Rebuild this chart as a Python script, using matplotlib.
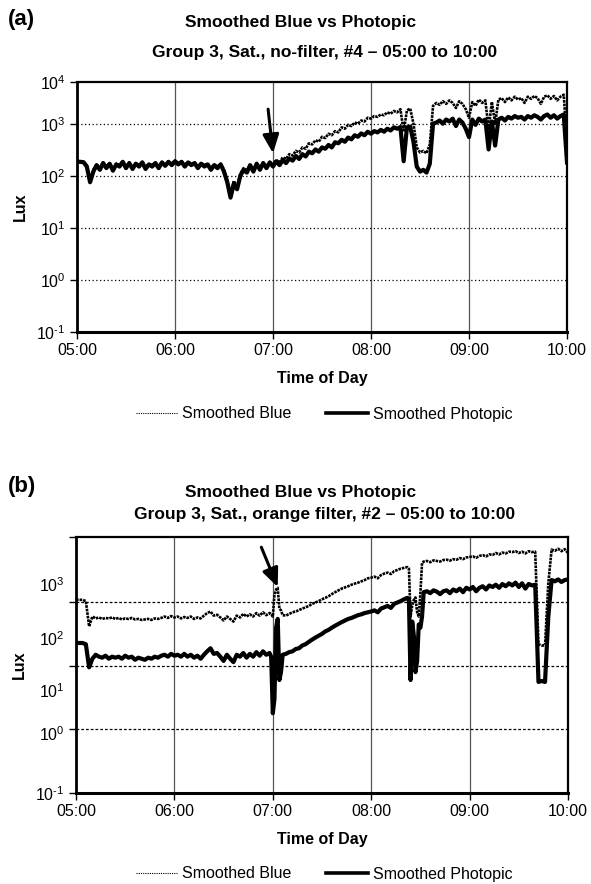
import numpy as np
import matplotlib
matplotlib.use("Agg")
import matplotlib.pyplot as plt
from matplotlib.lines import Line2D
from matplotlib.ticker import FixedLocator, NullFormatter

plt.rcParams['font.family'] = ['Liberation Sans', 'DejaVu Sans']
plt.rcParams['mathtext.fontset'] = 'custom'
plt.rcParams['mathtext.rm'] = 'Liberation Sans'
plt.rcParams['mathtext.it'] = 'Liberation Sans:italic'
plt.rcParams['mathtext.bf'] = 'Liberation Sans:bold'
plt.rcParams['mathtext.default'] = 'regular'
plt.rcParams['axes.unicode_minus'] = False

# ---------------- data ----------------
hour_ticks = [0, 60, 120, 180, 240, 300]          # minutes after 05:00
hour_labels = ["05:00", "06:00", "07:00", "08:00", "09:00", "10:00"]

time_grid = list(range(0, 301, 2))                  # minutes after 05:00

photopic_a = [185, 185, 182, 150, 75, 120, 160, 130, 175, 140,
              170, 125, 165, 150, 185, 140, 175, 135, 170, 150,
              180, 135, 165, 150, 175, 140, 180, 155, 185, 160,
              190, 165, 185, 150, 180, 160, 175, 140, 170, 150,
              165, 130, 160, 140, 165, 120, 75, 38, 70, 55,
              100, 130, 115, 160, 120, 170, 130, 175, 140, 180,
              150, 190, 160, 200, 175, 215, 195, 240, 210, 260,
              235, 290, 270, 320, 290, 350, 330, 390, 350, 440,
              420, 490, 450, 540, 500, 600, 560, 650, 600, 700,
              640, 720, 680, 760, 700, 800, 740, 850, 800, 860,
              190, 850, 880, 450, 150, 120, 130, 115, 170, 1000,
              1050, 1150, 1000, 1200, 1100, 1250, 900, 1200, 1050, 800,
              550, 1200, 950, 1250, 1100, 1200, 320, 1100, 380, 1200,
              1300, 1150, 1350, 1250, 1400, 1300, 1350, 1200, 1400, 1300,
              1450, 1350, 1200, 1400, 1500, 1300, 1450, 1250, 1400, 1500,
              180]

blue_a = [190, 190, 185, 160, 85, 130, 165, 140, 180, 150,
          175, 135, 170, 160, 190, 150, 180, 145, 175, 160,
          185, 145, 170, 160, 180, 150, 185, 165, 190, 170,
          195, 175, 190, 160, 185, 170, 180, 150, 175, 160,
          170, 140, 165, 150, 170, 130, 85, 45, 80, 60,
          110, 140, 125, 165, 130, 175, 140, 180, 150, 185,
          165, 200, 180, 225, 210, 260, 245, 300, 280, 350,
          330, 420, 400, 480, 450, 560, 530, 640, 600, 720,
          680, 850, 800, 950, 900, 1050, 1000, 1150, 1100, 1300,
          1250, 1400, 1350, 1500, 1450, 1650, 1550, 1750, 1650, 1900,
          700, 1800, 1950, 1000, 350, 280, 300, 270, 400, 2200,
          2500, 2300, 2700, 2400, 2800, 2500, 2000, 2700, 2400, 1900,
          1300, 2600, 2200, 2900, 2500, 2800, 800, 2600, 1000, 2900,
          3100, 2600, 3200, 2800, 3300, 2900, 3100, 2500, 3300, 3000,
          3400, 3100, 2400, 3300, 3500, 3000, 3400, 2800, 3300, 3600,
          400]

photopic_b = [23, 23, 23, 22, 9.5, 13, 15, 14, 13.5, 14.5,
              13, 14, 13.5, 14, 13, 14.5, 13.5, 14, 12.5, 13.5,
              13, 12.5, 13.5, 13, 14, 13.5, 14.5, 15, 14, 15.5,
              14.5, 15, 14, 15.5, 14, 15, 13.5, 14.5, 13, 15,
              17, 19, 15.5, 16, 14, 12, 15, 13, 11.5, 15,
              14, 16, 13.5, 15.5, 14, 16.5, 14.5, 17, 15, 16,
              1.8, 40, 6, 15, 15.5, 16.5, 17, 18.5, 19, 21,
              22, 24, 26, 28, 30, 32, 35, 37, 40, 43,
              46, 49, 52, 55, 57, 60, 63, 65, 68, 70,
              72, 75, 70, 80, 84, 88, 82, 95, 100, 105,
              112, 118, 6, 30, 12, 40, 145, 150, 140, 155,
              148, 135, 150, 155, 140, 160, 150, 165, 145, 170,
              160, 175, 150, 170, 180, 160, 185, 175, 190, 170,
              195, 180, 200, 185, 205, 175, 200, 165, 195, 185,
              190, 5.6, 5.8, 5.6, 60, 225, 215, 230, 210, 225,
              230]

blue_b = [110, 110, 110, 105, 42, 60, 56, 58, 55, 57,
          56, 58, 55, 57, 54, 56, 55, 57, 54, 55,
          53, 54, 55, 53, 56, 55, 57, 60, 57, 61,
          58, 60, 56, 59, 57, 60, 55, 58, 56, 62,
          68, 72, 62, 64, 58, 52, 60, 55, 50, 62,
          58, 66, 60, 65, 60, 68, 62, 70, 63, 68,
          60, 160, 80, 63, 62, 66, 70, 72, 76, 80,
          84, 88, 95, 100, 105, 112, 118, 125, 135, 145,
          155, 165, 172, 180, 190, 198, 205, 215, 225, 240,
          245, 255, 240, 270, 285, 295, 280, 310, 325, 340,
          350, 360, 60, 110, 70, 140, 440, 450, 430, 460,
          450, 440, 465, 470, 455, 480, 470, 500, 480, 510,
          520, 530, 505, 540, 555, 530, 570, 560, 600, 570,
          610, 590, 630, 620, 640, 600, 630, 590, 640, 620,
          630, 22, 21, 21, 200, 680, 650, 700, 640, 690,
          600]

# extra readings around the 07:00 and 08:25 events in panel (b)
time_b_extra = [119, 121, 123, 125, 203, 205, 207, 209, 211]
photopic_b_extra = [14, 3, 55, 8, 110, 50, 8, 45, 60]
blue_b_extra = [65, 130, 170, 75, 340, 90, 120, 60, 420]

ytick_values = [0.1, 1, 10, 100, 1000]
ytick_labels = ['$10^{\u20101}$', r'$10^{0}$', r'$10^{1}$', r'$10^{2}$', r'$10^{3}$']

# ---------------- figure ----------------
W, H = 591, 884
fig = plt.figure(figsize=(W / 100, H / 100), dpi=100)


def fx(px):
    return px / W


def fy(py):
    return 1 - py / H


def make_axes(l, r, t, b):
    return fig.add_axes([fx(l), fy(b), fx(r) - fx(l), (b - t) / H])


A_TOP_EXP = 3.8
ax_a = make_axes(77, 567, 82, 332)
ax_b = make_axes(76, 568, 537, 793)

ta = np.array(time_grid)
tb_all = np.array(time_grid + time_b_extra)
order = np.argsort(tb_all, kind='stable')
tb = tb_all[order]
pb = np.array(photopic_b + photopic_b_extra)[order]
bb = np.array(blue_b + blue_b_extra)[order]

blue_style = dict(color='black', lw=1.9, linestyle=(0, (1.0, 0.35)), zorder=3)
phot_style = dict(color='black', lw=3.0, linestyle='-', zorder=4)

ax_a.plot(ta, blue_a, **blue_style)
ax_a.plot(ta, photopic_a, **phot_style)
ax_b.plot(tb, bb, **blue_style)
ax_b.plot(tb, pb, **phot_style)

grid_levels = {ax_a: [1, 10, 100, 1000], ax_b: [1, 10, 100]}
for ax, top_exp, gls in ((ax_a, A_TOP_EXP, (0, (1, 2))), (ax_b, 3.03, (0, (2.2, 1.6)))):
    ax.set_yscale('log')
    ax.set_xlim(0, 300)
    ax.set_ylim(0.1, 10 ** top_exp)
    ax.set_xticks(hour_ticks)
    ax.set_xticklabels(hour_labels, fontsize=11.5)
    for t in hour_ticks[1:-1]:
        ax.axvline(t, color='#555555', lw=0.9, zorder=1)
    for v in grid_levels[ax]:
        ax.axhline(v, color='black', lw=0.9, linestyle=gls, zorder=1)
    for s in ax.spines.values():
        s.set_linewidth(1.6)
    ax.spines['bottom'].set_linewidth(2.2)
    ax.spines['left'].set_linewidth(2.0)
    ax.tick_params(axis='both', which='major', direction='out', length=5, width=1.0,
                   labelsize=11.5, pad=3)
    ax.set_xlabel('Time of Day', fontsize=11.5, fontweight='bold', labelpad=9)
    ax.set_ylabel('Lux', fontsize=11.5, fontweight='bold', labelpad=6)

# panel (a): decade labels, top label "10^4" at the top edge
a_top = 10 ** A_TOP_EXP
ax_a.yaxis.set_major_locator(FixedLocator(ytick_values + [a_top]))
ax_a.set_yticklabels(ytick_labels + [r'$10^{4}$'])
ax_a.yaxis.set_minor_locator(FixedLocator([]))
ax_a.yaxis.set_minor_formatter(NullFormatter())

# panel (b): tick marks at decades, labels where they sit in the original
b_label_pos = [0.1, 10 ** -0.06, 10 ** 0.62, 10 ** 1.44, 10 ** 2.28]
ax_b.yaxis.remove_overlapping_locs = False
ax_b.yaxis.set_major_locator(FixedLocator([0.1, 1, 10, 100, 10 ** 3.03]))
ax_b.yaxis.set_major_formatter(NullFormatter())
ax_b.yaxis.set_minor_locator(FixedLocator(b_label_pos))
ax_b.set_yticklabels(ytick_labels, minor=True)
ax_b.tick_params(axis='y', which='minor', length=0, labelsize=11.5, pad=8)

# arrows
arrow_kw = dict(arrowstyle='-|>,head_width=0.35,head_length=0.8',
                lw=2.2, color='black', shrinkA=0, shrinkB=0, mutation_scale=14)
ax_a.annotate('', xy=(120, 270), xytext=(117, 1900), arrowprops=arrow_kw, zorder=6)
ax_b.annotate('', xy=(123, 175), xytext=(113, 740), arrowprops=arrow_kw, zorder=6)

# titles
fig.text(fx(8), fy(19), '(a)', fontsize=16, fontweight='bold', ha='left', va='center')
fig.text(fx(301), fy(23), 'Smoothed Blue vs Photopic', fontsize=12.5,
         fontweight='bold', ha='center', va='center')
fig.text(fx(325), fy(52), 'Group 3, Sat., no-filter, #4 \u2013 05:00 to 10:00', fontsize=12.5,
         fontweight='bold', ha='center', va='center')

fig.text(fx(8), fy(486), '(b)', fontsize=16, fontweight='bold', ha='left', va='center')
fig.text(fx(301), fy(493), 'Smoothed Blue vs Photopic', fontsize=12.5,
         fontweight='bold', ha='center', va='center')
fig.text(fx(325), fy(514), 'Group 3, Sat., orange filter, #2 \u2013 05:00 to 10:00', fontsize=12.5,
         fontweight='bold', ha='center', va='center')

# legends
handles = [Line2D([], [], color='black', lw=0.8, linestyle=(0, (1, 1))),
           Line2D([], [], color='black', lw=2.6)]
names = ['Smoothed Blue', 'Smoothed Photopic']
for ly in (414, 874):
    fig.legend(handles, names, loc='center', bbox_to_anchor=(fx(324), fy(ly)),
               ncol=2, frameon=False, fontsize=11.5, handlelength=2.6,
               handletextpad=0.3, columnspacing=2.2)

fig.savefig('out.png', dpi=100)
